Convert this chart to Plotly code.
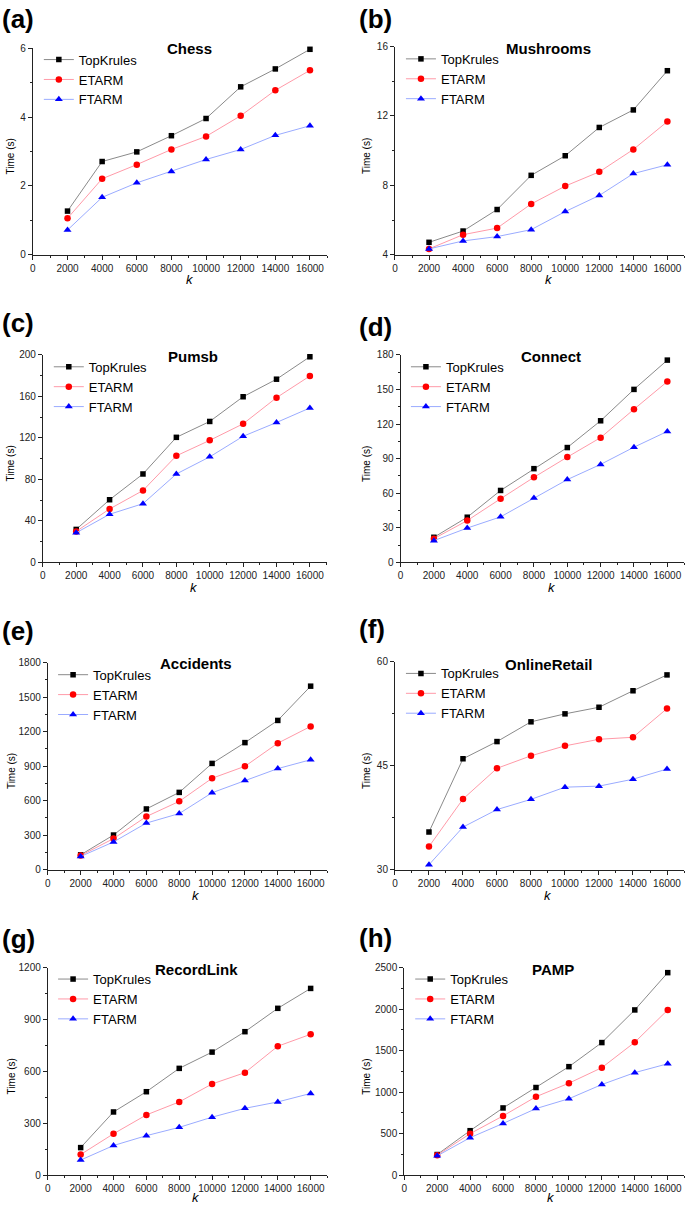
import plotly.graph_objects as go

W, H = 685, 1210
FONT = "Liberation Sans, Arial, sans-serif"

# ---------------- data ----------------
k_values = [2000, 4000, 6000, 8000, 10000, 12000, 14000, 16000]
algorithms = ["TopKrules", "ETARM", "FTARM"]
datasets = ["Chess", "Mushrooms", "Pumsb", "Connect",
            "Accidents", "OnlineRetail", "RecordLink", "PAMP"]
panel_letters = ["(a)", "(b)", "(c)", "(d)", "(e)", "(f)", "(g)", "(h)"]

chess_topkrules = [1.27, 2.71, 2.99, 3.46, 3.96, 4.88, 5.40, 5.97]
chess_etarm = [1.06, 2.21, 2.62, 3.06, 3.44, 4.04, 4.78, 5.36]
chess_ftarm = [0.72, 1.67, 2.09, 2.42, 2.77, 3.06, 3.47, 3.75]

mushrooms_topkrules = [4.72, 5.37, 6.61, 8.58, 9.71, 11.34, 12.35, 14.61]
mushrooms_etarm = [4.34, 5.16, 5.54, 6.93, 7.96, 8.78, 10.07, 11.68]
mushrooms_ftarm = [4.34, 4.80, 5.05, 5.45, 6.49, 7.42, 8.68, 9.19]

pumsb_topkrules = [31.8, 60.4, 85.2, 120.5, 135.8, 159.6, 176.5, 198.1]
pumsb_etarm = [29.9, 51.5, 69.3, 102.7, 117.6, 133.5, 158.7, 179.6]
pumsb_ftarm = [28.6, 46.4, 56.6, 85.2, 101.7, 121.5, 134.8, 148.8]

connect_topkrules = [21.8, 39.2, 62.4, 81.3, 99.6, 122.8, 150.0, 175.4]
connect_etarm = [20.6, 36.3, 55.2, 73.8, 91.3, 108.2, 132.8, 156.8]
connect_ftarm = [18.9, 29.8, 39.5, 55.8, 71.8, 85.0, 99.9, 113.6]

accidents_topkrules = [129, 301, 528, 672, 924, 1105, 1298, 1596]
accidents_etarm = [123, 270, 462, 594, 795, 899, 1100, 1246]
accidents_ftarm = [115, 241, 405, 488, 669, 775, 879, 956]

onlineretail_topkrules = [35.43, 46.0, 48.48, 51.33, 52.48, 53.43, 55.81, 58.1]
onlineretail_etarm = [33.33, 40.19, 44.62, 46.43, 47.86, 48.81, 49.1, 53.24]
onlineretail_ftarm = [30.71, 36.14, 38.67, 40.14, 41.9, 42.05, 43.05, 44.52]

recordlink_topkrules = [160, 366, 483, 618, 712, 830, 965, 1080]
recordlink_etarm = [120, 240, 349, 424, 528, 593, 746, 815]
recordlink_ftarm = [88, 172, 229, 277, 336, 387, 424, 473]

pamp_topkrules = [250, 537, 811, 1057, 1308, 1598, 1991, 2440]
pamp_etarm = [242, 501, 715, 946, 1109, 1296, 1602, 1991]
pamp_ftarm = [234, 453, 624, 803, 922, 1093, 1236, 1343]

series = [
    [chess_topkrules, chess_etarm, chess_ftarm],
    [mushrooms_topkrules, mushrooms_etarm, mushrooms_ftarm],
    [pumsb_topkrules, pumsb_etarm, pumsb_ftarm],
    [connect_topkrules, connect_etarm, connect_ftarm],
    [accidents_topkrules, accidents_etarm, accidents_ftarm],
    [onlineretail_topkrules, onlineretail_etarm, onlineretail_ftarm],
    [recordlink_topkrules, recordlink_etarm, recordlink_ftarm],
    [pamp_topkrules, pamp_etarm, pamp_ftarm],
]

y_ranges = [[0, 6], [4, 16], [0, 200], [0, 180], [0, 1800], [30, 60], [0, 1200], [0, 2500]]
y_dticks = [2, 4, 40, 30, 300, 15, 300, 500]
x_range = [0, 17000]
x_dtick = 2000

# ---------------- styles ----------------
marker_colors = ["#000000", "#ff0000", "#0000ff"]
line_colors = ["#8a8a8a", "#ff9aa8", "#9aabff"]
marker_symbols = ["square", "circle", "triangle-up"]
marker_sizes = [5.5, 6.5, 7]

# panel geometry in pixels: plot-area left, right, top, bottom
geom = [
    (30.0, 325.7, 42.7, 251.3),
    (393.7, 684.4, 41.0, 251.3),
    (40.0, 325.0, 352.3, 562.0),
    (399.3, 684.0, 352.3, 562.0),
    (45.0, 325.5, 663.3, 872.3),
    (393.7, 684.0, 662.3, 872.3),
    (45.0, 325.5, 971.3, 1181.0),
    (403.0, 684.2, 971.3, 1181.0),
]
title_pos = [(187, 43), (548, 43), (191, 354), (550, 354),
             (194, 664), (548, 665), (194, 973), (552, 973)]
k_pos = [(188, 276), (548, 276), (192, 587), (551, 587),
         (194, 898), (547, 898), (194, 1203), (550, 1203)]
ytitle_x = [8, 365, 8, 365, 8, 365, 8, 365]
letter_pos = [(-3, 13), (355.7, 13), (-3, 320), (355.7, 324),
              (-3, 631), (355.7, 629), (-3, 942), (355.7, 941)]
legend_pos = [(36, 59), (399.7, 58.3), (46, 369.3), (404.7, 369.3),
              (50.3, 680.3), (399.7, 679), (50.3, 987.7), (409, 987.7)]

def px_x(x):
    return x / W

def px_y(y):
    return 1 - y / H

fig = go.Figure()
annotations = []
layout = dict(
    width=W, height=H,
    margin=dict(l=0, r=0, t=0, b=0),
    paper_bgcolor="white", plot_bgcolor="white",
    font=dict(family=FONT, color="#000000"),
    showlegend=True,
)

for i, ds in enumerate(datasets):
    n = "" if i == 0 else str(i + 1)
    xa, ya = "x" + n, "y" + n
    leg = "legend" + n
    for j, alg in enumerate(algorithms):
        fig.add_trace(go.Scatter(
            x=k_values, y=series[i][j], name=alg,
            mode="lines+markers",
            line=dict(color=line_colors[j], width=1),
            marker=dict(color=marker_colors[j], symbol=marker_symbols[j],
                        size=marker_sizes[j], line=dict(width=0)),
            xaxis=xa, yaxis=ya, legend=leg, cliponaxis=False,
        ))
    l, r, t, b = geom[i]
    axis_common = dict(
        showgrid=False, zeroline=False, showline=True,
        linecolor="#222222", linewidth=1,
        ticks="outside", ticklen=4, tickwidth=1, tickcolor="#222222",
        tickfont=dict(family=FONT, size=10, color="#222222"),
    )
    layout["xaxis" + n] = dict(
        domain=[px_x(l), px_x(r)], anchor=ya, range=x_range,
        tick0=0, dtick=x_dtick, tickformat="d",
        minor=dict(ticks="outside", ticklen=2, dtick=x_dtick / 2,
                   tickcolor="#222222", showgrid=False),
        **axis_common,
    )
    layout["yaxis" + n] = dict(
        domain=[px_y(b), px_y(t)], anchor=xa, range=y_ranges[i],
        tick0=y_ranges[i][0], dtick=y_dticks[i], tickformat="d",
        minor=dict(ticks="outside", ticklen=2, dtick=y_dticks[i] / 2,
                   tickcolor="#222222", showgrid=False),
        **axis_common,
    )
    lx, ly = legend_pos[i]
    layout[leg] = dict(
        x=px_x(lx), y=px_y(ly - 20), xanchor="left", yanchor="top",
        bgcolor="rgba(0,0,0,0)", borderwidth=0,
        font=dict(family=FONT, size=13, color="#000000"),
        itemwidth=30, tracegroupgap=0,
    )
    tx, ty = title_pos[i]
    annotations.append(dict(
        text="<b>" + ds + "</b>", x=px_x(tx), y=px_y(ty), xref="paper", yref="paper",
        xanchor="center", yanchor="middle", showarrow=False,
        font=dict(family=FONT, size=15, color="#000000"),
    ))
    kx, ky = k_pos[i]
    annotations.append(dict(
        text="<i>k</i>", x=px_x(kx), y=px_y(ky), xref="paper", yref="paper",
        xanchor="center", yanchor="middle", showarrow=False,
        font=dict(family=FONT, size=13, color="#000000"),
    ))
    annotations.append(dict(
        text="Time (s)", x=px_x(ytitle_x[i]), y=px_y((t + b) / 2 + 5),
        xref="paper", yref="paper", textangle=-90,
        xanchor="center", yanchor="middle", showarrow=False,
        font=dict(family=FONT, size=10, color="#000000"),
    ))
    ax_, ay_ = letter_pos[i]
    annotations.append(dict(
        text="<b>" + panel_letters[i] + "</b>", x=px_x(ax_), y=px_y(ay_),
        xref="paper", yref="paper", xanchor="left", yanchor="middle",
        showarrow=False, font=dict(family=FONT, size=26, color="#000000"),
    ))

layout["annotations"] = annotations
fig.update_layout(**layout)
fig.write_html(
    "out.html",
    config={"displayModeBar": False},
    post_script="document.body.style.margin='0';document.body.style.padding='0';",
)
